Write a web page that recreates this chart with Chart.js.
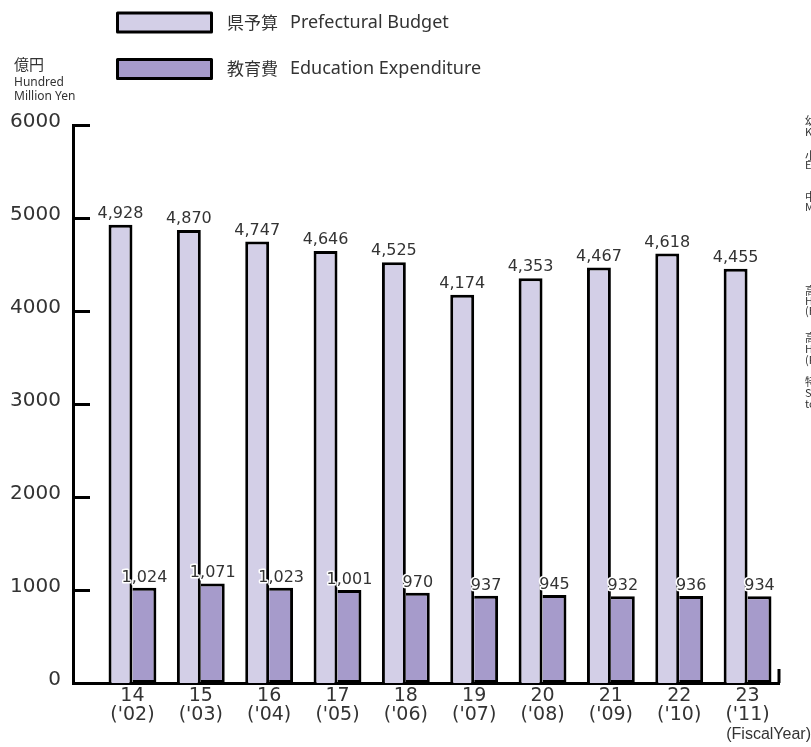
<!DOCTYPE html>
<html>
<head>
<meta charset="utf-8">
<script src="https://cdn.jsdelivr.net/npm/chart.js@4.4.1/dist/chart.umd.min.js"></script>
<style>
    html, body { margin: 0; padding: 0; background: #fff; }
    .chart-wrap { position: relative; width: 811px; height: 747px; }
</style>
</head>
<body>
<div class="chart-wrap"><canvas id="budgetChart"></canvas></div>
<script>
// Chart data
const years = ['14', '15', '16', '17', '18', '19', '20', '21', '22', '23'];
const fiscalYears = ["('02)", "('03)", "('04)", "('05)", "('06)", "('07)", "('08)", "('09)", "('10)", "('11)"];
const budget = [4928, 4870, 4747, 4646, 4525, 4174, 4353, 4467, 4618, 4455];
const education = [1024, 1071, 1023, 1001, 970, 937, 945, 932, 936, 934];
const yTicks = [0, 1000, 2000, 3000, 4000, 5000, 6000];

const NUM_FONT = '"DejaVu Sans", sans-serif';
const JP_FONT = '"Noto Sans CJK JP", sans-serif';
const TEXT = '#333';

// clipped legend of the neighbouring chart at the right edge
const sideNotes = [
    [['幼稚園', 121], ['Kindergarten', 132]],
    [['小学校', 156], ['Elementary School', 165]],
    [['中学校', 197], ['Middle School', 207]],
    [['高等学校', 291], ['High School', 301], ['(Full-time)', 311]],
    [['高等学校', 338], ['High School', 349], ['(Part-time)', 360]],
    [['特別支援学校', 382], ['Special Needs', 393], ['to School', 404]]
];

const extras = {
    id: 'extras',
    afterDraw(chart) {
        const c = chart.ctx;
        const y = chart.scales.y;
        const area = chart.chartArea;
        c.save();

        // inward tick marks on the y axis
        c.strokeStyle = '#000';
        c.lineWidth = 3;
        yTicks.forEach(v => {
            const py = Math.round(y.getPixelForValue(v)) + 0.5;
            c.beginPath();
            c.moveTo(area.left, py);
            c.lineTo(area.left + 17, py);
            c.stroke();
        });
        // small upright tick at the end of the x axis
        c.beginPath();
        c.moveTo(area.right, area.bottom);
        c.lineTo(area.right, area.bottom - 14);
        c.stroke();

        // value labels
        c.textAlign = 'center';
        c.textBaseline = 'alphabetic';
        c.font = '16px ' + NUM_FONT;
        chart.getDatasetMeta(0).data.forEach((bar, i) => {
            c.fillStyle = TEXT;
            c.fillText(budget[i].toLocaleString('en-US'), bar.x, bar.y - 7);
        });
        chart.getDatasetMeta(1).data.forEach((bar, i) => {
            const t = education[i].toLocaleString('en-US');
            c.strokeStyle = '#fff';
            c.lineWidth = 3;
            c.lineJoin = 'round';
            c.strokeText(t, bar.x, bar.y - 6);
            c.fillStyle = TEXT;
            c.fillText(t, bar.x, bar.y - 6);
        });

        // legend
        const items = [
            { jp: '県予算', en: 'Prefectural Budget', color: chart.data.datasets[0].backgroundColor, cy: 22.5 },
            { jp: '教育費', en: 'Education Expenditure', color: chart.data.datasets[1].backgroundColor, cy: 69 }
        ];
        items.forEach(it => {
            c.fillStyle = it.color;
            c.fillRect(117.5, it.cy - 9.5, 94, 19);
            c.strokeStyle = '#000';
            c.lineWidth = 3;
            c.strokeRect(117.5, it.cy - 9.5, 94, 19);
            c.fillStyle = TEXT;
            c.textAlign = 'left';
            c.textBaseline = 'middle';
            c.font = '17px ' + JP_FONT;
            c.fillText(it.jp, 227, it.cy);
            c.font = '18px "Noto Sans", sans-serif';
            c.fillText(it.en, 290, it.cy);
        });

        // unit label
        c.font = '15px ' + JP_FONT;
        c.fillText('億円', 14, 64);
        c.font = '12px "Noto Sans", sans-serif';
        c.fillText('Hundred', 14, 83);
        c.fillText('Million Yen', 14, 97);

        // fiscal year caption
        c.textAlign = 'right';
        c.font = '16px "Liberation Sans Narrow", "Liberation Sans", sans-serif';
        c.fillText('(FiscalYear)', 811, 735);

        // right edge notes
        c.textAlign = 'left';
        sideNotes.forEach(group => group.forEach(([t, py]) => {
            c.font = '11px ' + JP_FONT;
            c.fillText(t, 805, py);
        }));
        c.restore();
    }
};

const ctx = document.getElementById('budgetChart').getContext('2d');
const budgetChart = new Chart(ctx, {
    type: 'bar',
    data: {
        datasets: [
            {
                label: '県予算',
                data: budget.map((v, i) => ({ x: i, y: v })),
                backgroundColor: '#d3cfe7',
                borderColor: '#000',
                borderWidth: 3,
                borderSkipped: 'bottom'
            },
            {
                label: '教育費',
                data: education.map((v, i) => ({ x: i, y: v })),
                backgroundColor: '#a69bcb',
                borderColor: '#000',
                borderWidth: 3,
                borderSkipped: 'left'
            }
        ]
    },
    options: {
        responsive: true,
        maintainAspectRatio: false,
        animation: false,
        devicePixelRatio: 1,
        datasets: {
            bar: {
                categoryPercentage: 0.7,
                barPercentage: 1
            }
        },
        layout: {
            padding: { left: 0, right: 32, top: 125, bottom: 0 }
        },
        plugins: {
            legend: { display: false },
            tooltip: { enabled: false }
        },
        scales: {
            x: {
                type: 'linear',
                min: -0.87,
                max: 9.46,
                offset: false,
                grid: { display: false, drawTicks: false },
                border: { display: true, width: 3, color: '#000' },
                ticks: {
                    stepSize: 1,
                    includeBounds: false,
                    autoSkip: false,
                    maxRotation: 0,
                    padding: 4,
                    color: TEXT,
                    font: { size: 19, family: NUM_FONT, lineHeight: 1.0 },
                    callback: function(value) {
                        return Number.isInteger(value) && years[value] ? [years[value], fiscalYears[value]] : '';
                    }
                },
                afterFit: function(scale) {
                    scale.height = 64;
                }
            },
            y: {
                min: 0,
                max: 6000,
                grid: { display: false, drawTicks: false },
                border: { display: true, width: 3, color: '#000' },
                ticks: {
                    stepSize: 1000,
                    padding: 12,
                    labelOffset: -3,
                    color: TEXT,
                    font: { size: 20, family: NUM_FONT },
                    callback: function(value) {
                        return String(value);
                    }
                },
                afterFit: function(scale) {
                    scale.width = 73;
                }
            }
        }
    },
    plugins: [extras]
});
</script>
</body>
</html>
